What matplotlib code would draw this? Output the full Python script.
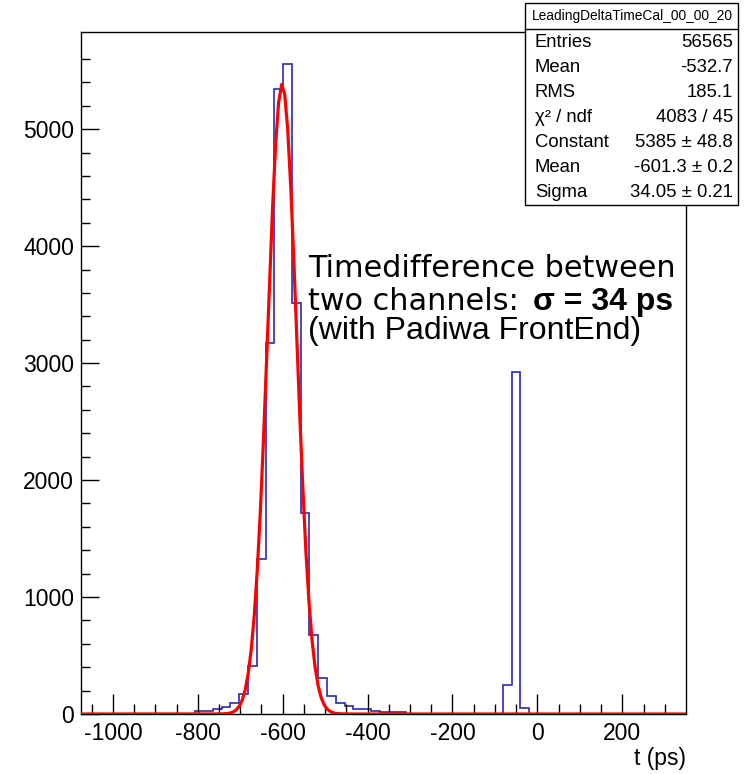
import numpy as np
import matplotlib
matplotlib.use("Agg")
import matplotlib.pyplot as plt
from matplotlib.patches import Rectangle

# histogram binning (ps)
x_min = -1075
bin_width = 20.7
n_bins = 69

# bin contents
counts = [0] * 13 + [
    25, 28, 40, 60, 92, 171, 411, 1325, 3176, 5347, 5553, 3510,
    1719, 677, 311, 152, 92, 67, 45, 40, 29, 20, 20, 18,
] + [0] * 11 + [248, 2925, 50] + [0] * 18

# gaussian fit parameters from the stats box
fit_const = 5385
fit_mean = -601.3
fit_sigma = 34.05

stat_names = ["Entries", "Mean", "RMS", "\u03c7\u00b2 / ndf", "Constant", "Mean", "Sigma"]
stat_values = ["56565", "-532.7", "185.1", "4083 / 45",
               "5385 \u00b1 48.8", "-601.3 \u00b1 0.2", "34.05 \u00b1 0.21"]
hist_name = "LeadingDeltaTimeCal_00_00_20"

W, H = 754, 774
plt.rcParams['font.family'] = ['Liberation Sans', 'DejaVu Sans']
plt.rcParams['axes.unicode_minus'] = False
fig = plt.figure(figsize=(W / 100, H / 100), dpi=100)

# axes frame in pixels: left 81, right 686, top 32, bottom 714
ax = fig.add_axes([81 / W, (H - 714) / H, 605 / W, 682 / H])

edges = x_min + bin_width * np.arange(n_bins + 1)
ax.stairs(counts, edges, color='#2a2ab4', linewidth=1.2)

# fit curve
xf = np.linspace(x_min, 350, 200)
yf = fit_const * np.exp(-0.5 * ((xf - fit_mean) / fit_sigma) ** 2)
ax.plot(xf, yf, color='red', linewidth=2.3, zorder=3)

ax.set_xlim(-1075, 350)
ax.set_ylim(0, 1.05 * max(counts))
ax.set_xticks([-1000, -800, -600, -400, -200, 0, 200])
ax.set_xticks(np.arange(-1050, 350, 50), minor=True)
ax.set_yticks([0, 1000, 2000, 3000, 4000, 5000])
ax.set_yticks(np.arange(0, 5800, 200), minor=True)
ax.tick_params(which='both', direction='in', top=False, right=False,
               labelsize=16.5, width=1, color='black')
ax.tick_params(axis='x', which='major', length=14.5, pad=6)
ax.tick_params(axis='x', which='minor', length=7.2)
ax.tick_params(axis='y', which='major', length=13, pad=5)
ax.tick_params(axis='y', which='minor', length=6.5)
for s in ax.spines.values():
    s.set_linewidth(1)

fig.text(686 / W, 1 - 765 / H, "t (ps)", ha='right', va='baseline', fontsize=16.5)

# stats box
def fx(px):
    return px / W

def fy(py):
    return 1 - py / H

box = Rectangle((fx(525), fy(205)), fx(738) - fx(525), (205 - 3) / H,
                transform=fig.transFigure, facecolor='white', edgecolor='black',
                linewidth=1, zorder=5)
fig.add_artist(box)
fig.add_artist(plt.Line2D([fx(525), fx(738)], [fy(29), fy(29)],
                          transform=fig.transFigure, color='black', linewidth=1, zorder=6))
fig.text(fx(632), fy(16), hist_name, ha='center', va='center', fontsize=9.9, zorder=7)
for i, (n, v) in enumerate(zip(stat_names, stat_values)):
    yy = fy(42.5 + i * 25)
    fig.text(fx(535), yy, n, ha='left', va='center', fontsize=13.3, zorder=7)
    fig.text(fx(733), yy, v, ha='right', va='center', fontsize=13.3, zorder=7)

# annotation
fig.text(fx(308), fy(277), "Timedifference between", family='DejaVu Sans',
         fontsize=21.8, va='baseline')
fig.text(fx(308), fy(310), "two channels:", family='DejaVu Sans',
         fontsize=21.8, va='baseline')
fig.text(fx(533), fy(310), "\u03c3 = 34 ps", fontweight='bold',
         fontsize=23, va='baseline')
fig.text(fx(308), fy(339), "(with Padiwa FrontEnd)", fontsize=23, va='baseline')

fig.savefig("out.png", dpi=100)
